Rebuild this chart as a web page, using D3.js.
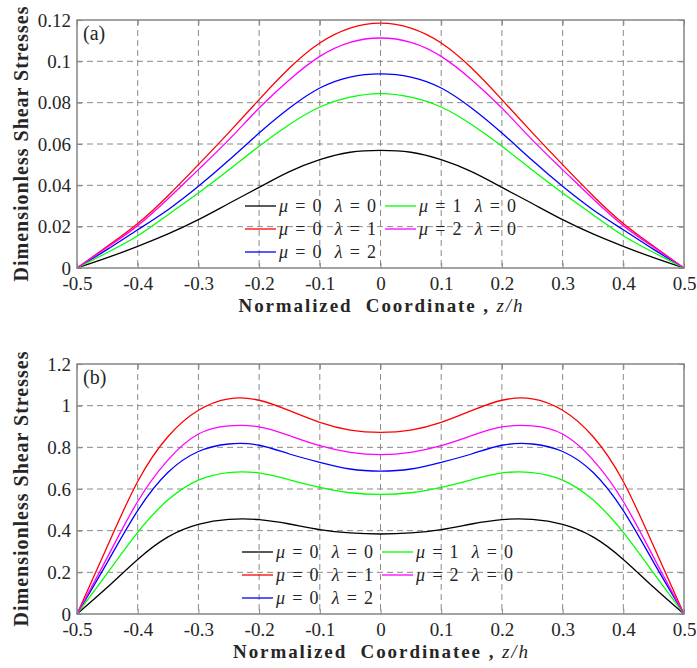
<!DOCTYPE html>
<html>
<head>
<meta charset="utf-8">
<script src="https://cdn.jsdelivr.net/npm/d3@7"></script>
<style>
  body { margin: 0; background: #fff; }
</style>
</head>
<body>
<script>
// normalized coordinate z/h
const zValues = [-0.5, -0.45, -0.4, -0.35, -0.3, -0.25, -0.2, -0.15, -0.1, -0.05, 0,
  0.05, 0.1, 0.15, 0.2, 0.25, 0.3, 0.35, 0.4, 0.45, 0.5];

const seriesNames = [
  { mu: 0, lambda: 0, color: '#000000' },
  { mu: 0, lambda: 1, color: '#ff0000' },
  { mu: 0, lambda: 2, color: '#0000ff' },
  { mu: 1, lambda: 0, color: '#00ff00' },
  { mu: 2, lambda: 0, color: '#ff00ff' },
];

// panel (a)
const aBlack = [0, 0.005, 0.0105, 0.0165, 0.0234, 0.0312, 0.039, 0.0466, 0.0524, 0.056, 0.0569,
  0.056, 0.0524, 0.0466, 0.039, 0.0312, 0.0234, 0.0165, 0.0105, 0.005, 0];
const aRed = [0, 0.0105, 0.0215, 0.035, 0.050, 0.0655, 0.0815, 0.0968, 0.1089, 0.1161, 0.1185,
  0.1161, 0.1089, 0.0968, 0.0815, 0.0655, 0.050, 0.035, 0.0215, 0.0105, 0];
const aBlue = [0, 0.009, 0.0185, 0.0282, 0.0395, 0.0521, 0.0653, 0.0774, 0.0871, 0.0924, 0.0939,
  0.0924, 0.0871, 0.0774, 0.0653, 0.0521, 0.0395, 0.0282, 0.0185, 0.009, 0];
const aGreen = [0, 0.0075, 0.0156, 0.0258, 0.0363, 0.0474, 0.0589, 0.0694, 0.0779, 0.0827, 0.0844,
  0.0827, 0.0779, 0.0694, 0.0589, 0.0474, 0.0363, 0.0258, 0.0156, 0.0075, 0];
const aMagenta = [0, 0.010, 0.0205, 0.0335, 0.0476, 0.062, 0.0774, 0.0911, 0.1024, 0.1092, 0.1113,
  0.1092, 0.1024, 0.0911, 0.0774, 0.062, 0.0476, 0.0335, 0.0205, 0.010, 0];

// panel (b)
const bBlack = [0, 0.128, 0.262, 0.37, 0.43, 0.454, 0.453, 0.432, 0.405, 0.389, 0.384,
  0.389, 0.405, 0.432, 0.453, 0.454, 0.43, 0.37, 0.262, 0.128, 0];
const bRed = [0, 0.325, 0.636, 0.852, 0.978, 1.033, 1.026, 0.976, 0.92, 0.883, 0.872,
  0.883, 0.92, 0.976, 1.026, 1.033, 0.978, 0.852, 0.636, 0.325, 0];
const bBlue = [0, 0.248, 0.496, 0.68, 0.78, 0.816, 0.81, 0.768, 0.728, 0.696, 0.686,
  0.696, 0.728, 0.768, 0.81, 0.816, 0.78, 0.68, 0.496, 0.248, 0];
const bGreen = [0, 0.196, 0.392, 0.548, 0.643, 0.679, 0.677, 0.644, 0.608, 0.582, 0.574,
  0.582, 0.608, 0.644, 0.677, 0.679, 0.643, 0.548, 0.392, 0.196, 0];
const bMagenta = [0, 0.272, 0.54, 0.74, 0.864, 0.903, 0.898, 0.856, 0.808, 0.776, 0.765,
  0.776, 0.808, 0.856, 0.898, 0.903, 0.864, 0.74, 0.54, 0.272, 0];

const xTicks = [-0.5, -0.4, -0.3, -0.2, -0.1, 0, 0.1, 0.2, 0.3, 0.4, 0.5];
const xTickLabels = ['-0.5', '-0.4', '-0.3', '-0.2', '-0.1', '0', '0.1', '0.2', '0.3', '0.4', '0.5'];
const aYTicks = [0, 0.02, 0.04, 0.06, 0.08, 0.1, 0.12];
const aYTickLabels = ['0', '0.02', '0.04', '0.06', '0.08', '0.1', '0.12'];
const bYTicks = [0, 0.2, 0.4, 0.6, 0.8, 1.0, 1.2];
const bYTickLabels = ['0', '0.2', '0.4', '0.6', '0.8', '1', '1.2'];

const width = 697;
const height = 668;
const serif = "'Liberation Serif', 'Times New Roman', 'DejaVu Serif', serif";

const svg = d3.select('body').append('svg')
  .attr('width', width)
  .attr('height', height)
  .style('font-family', serif);

const panels = [
  {
    tag: '(a)', top: 20, bottom: 268, yMax: 0.12, yTicks: aYTicks, yLabels: aYTickLabels,
    series: [aBlack, aRed, aBlue, aGreen, aMagenta],
    xTitle: 'Normalized  Coordinate , ', xTitleLen: 284,
    legendRows: [206, 229, 252], legendX: [245, 385],
  },
  {
    tag: '(b)', top: 364, bottom: 614, yMax: 1.2, yTicks: bYTicks, yLabels: bYTickLabels,
    series: [bBlack, bRed, bBlue, bGreen, bMagenta],
    xTitle: 'Normalized  Coordinatee , ', xTitleLen: 295,
    legendRows: [552, 575, 598], legendX: [242, 382],
  },
];

const left = 77;
const right = 684;
const boxColor = '#858585';
const textColor = '#262626';

panels.forEach(p => drawPanel(p));

function drawPanel(p) {
  const x = d3.scaleLinear().domain([-0.5, 0.5]).range([left, right]);
  const y = d3.scaleLinear().domain([0, p.yMax]).range([p.bottom, p.top]);
  const g = svg.append('g');

  // grid
  g.append('g')
    .selectAll('line')
    .data(xTicks.slice(1, -1))
    .enter().append('line')
      .attr('x1', d => x(d)).attr('x2', d => x(d))
      .attr('y1', p.top).attr('y2', p.bottom)
      .attr('stroke', '#8a8a8a').attr('stroke-width', 1)
      .attr('stroke-dasharray', '6,4');
  g.append('g')
    .selectAll('line')
    .data(p.yTicks.slice(1, -1))
    .enter().append('line')
      .attr('y1', d => y(d)).attr('y2', d => y(d))
      .attr('x1', left).attr('x2', right)
      .attr('stroke', '#8a8a8a').attr('stroke-width', 1)
      .attr('stroke-dasharray', '6,4');

  // curves
  const line = d3.line()
    .x((d, i) => x(zValues[i]))
    .y(d => y(d))
    .curve(d3.curveNatural);

  g.append('g')
    .selectAll('path')
    .data(p.series)
    .enter().append('path')
      .attr('d', line)
      .attr('fill', 'none')
      .attr('stroke', (d, i) => seriesNames[i].color)
      .attr('stroke-width', 1.3);

  // axes
  const xAxis = d3.axisBottom(x)
    .tickValues(xTicks)
    .tickFormat((d, i) => xTickLabels[i])
    .tickSizeInner(-5).tickSizeOuter(0).tickPadding(9);
  const yAxis = d3.axisLeft(y)
    .tickValues(p.yTicks)
    .tickFormat((d, i) => p.yLabels[i])
    .tickSizeInner(-5).tickSizeOuter(0).tickPadding(6);

  const gx = g.append('g')
    .attr('transform', `translate(0,${p.bottom})`)
    .call(xAxis);
  const gy = g.append('g')
    .attr('transform', `translate(${left},0)`)
    .call(yAxis);
  g.append('g')
    .attr('transform', `translate(0,${p.top})`)
    .call(d3.axisTop(x).tickValues(xTicks).tickFormat('').tickSizeInner(-5).tickSizeOuter(0));
  g.append('g')
    .attr('transform', `translate(${right},0)`)
    .call(d3.axisRight(y).tickValues(p.yTicks).tickFormat('').tickSizeInner(-5).tickSizeOuter(0));

  g.selectAll('.domain').remove();
  g.selectAll('.tick line').attr('stroke', boxColor);
  [gx, gy].forEach(a => {
    a.attr('font-family', null);
    a.selectAll('text')
      .style('font-family', serif)
      .attr('font-size', 19)
      .attr('fill', textColor);
  });

  g.append('rect')
    .attr('x', left).attr('y', p.top)
    .attr('width', right - left).attr('height', p.bottom - p.top)
    .attr('fill', 'none').attr('stroke', boxColor).attr('stroke-width', 1.5);

  // panel tag
  g.append('text')
    .attr('x', 83).attr('y', p.top + 20)
    .attr('font-size', 20)
    .style('font-family', serif)
    .attr('fill', textColor)
    .text(p.tag);

  // legend, column-major like MATLAB
  const legendItems = [[0, 0], [1, 0], [2, 0], [0, 1], [1, 1]];
  const leg = g.append('g')
    .selectAll('g')
    .data(seriesNames)
    .enter().append('g')
      .attr('transform', (d, i) => `translate(${p.legendX[legendItems[i][1]]},${p.legendRows[legendItems[i][0]]})`);
  leg.append('line')
    .attr('x1', 0).attr('x2', 31)
    .attr('stroke', d => d.color).attr('stroke-width', 1.3);
  const lt = leg.append('text')
    .attr('x', 34).attr('dy', '0.35em')
    .attr('font-size', 18)
    .style('font-family', serif)
    .style('white-space', 'pre')
    .attr('textLength', 97)
    .attr('lengthAdjust', 'spacing')
    .attr('fill', textColor);
  lt.append('tspan').attr('font-style', 'italic').text('μ');
  lt.append('tspan').text(d => ` = ${d.mu}  `);
  lt.append('tspan').attr('font-style', 'italic').text('λ');
  lt.append('tspan').text(d => ` = ${d.lambda}`);

  // axis titles
  const xt = g.append('text')
    .attr('x', (left + right) / 2).attr('y', p.bottom + 44)
    .attr('text-anchor', 'middle')
    .attr('font-size', 19)
    .attr('font-weight', 'bold')
    .style('font-family', serif)
    .attr('fill', textColor)
    .attr('textLength', p.xTitleLen)
    .attr('lengthAdjust', 'spacing')
    .style('white-space', 'pre');
  xt.append('tspan').text(p.xTitle);
  xt.append('tspan').attr('font-style', 'italic').attr('font-weight', 'normal').text('z/h');

  g.append('text')
    .attr('transform', `translate(28,${(p.top + p.bottom) / 2}) rotate(-90)`)
    .attr('text-anchor', 'middle')
    .attr('font-size', 20)
    .attr('font-weight', 'bold')
    .style('font-family', serif)
    .attr('fill', textColor)
    .attr('textLength', 275)
    .attr('lengthAdjust', 'spacing')
    .text('Dimensionless Shear Stresses');
}
</script>
</body>
</html>
